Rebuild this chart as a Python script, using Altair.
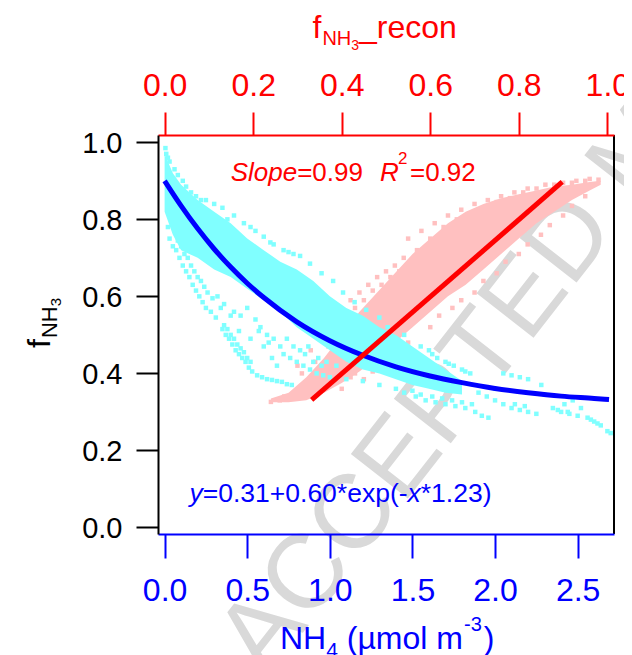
import altair as alt
import pandas as pd

FONT = "Liberation Sans"
BLUE = "#0000FF"
RED = "#FF0000"
CYAN = "#80FFFF"
PINK = "#FFC0C0"

# ---------------- data ----------------
# exponential fit curve (bottom axis: NH4)
fit_x = [0.0, 0.1, 0.2, 0.3, 0.4, 0.5, 0.6, 0.8, 1.0, 1.2, 1.4, 1.6, 1.8, 2.0, 2.2, 2.4, 2.6, 2.69]
fit_y = [0.900, 0.835, 0.776, 0.723, 0.676, 0.634, 0.597, 0.534, 0.485, 0.447, 0.417, 0.394,
         0.376, 0.361, 0.350, 0.341, 0.335, 0.332]

# linear fit (top axis: f_NH3_recon)
line_t = [0.332, 0.898]
line_y = [0.331, 0.897]

# cyan cloud: dense core band (NH4 vs f_NH3)
cb_x = [0.00, 0.05, 0.10, 0.20, 0.30, 0.40, 0.50, 0.60, 0.70, 0.80, 0.90, 1.00, 1.10, 1.20,
        1.30, 1.40, 1.50, 1.60, 1.70, 1.80]
cb_lo = [0.82, 0.76, 0.72, 0.70, 0.67, 0.65, 0.62, 0.59, 0.56, 0.52, 0.49, 0.46, 0.43, 0.41,
         0.40, 0.385, 0.37, 0.36, 0.35, 0.345]
cb_hi = [0.97, 0.92, 0.89, 0.85, 0.82, 0.79, 0.75, 0.72, 0.69, 0.67, 0.64, 0.60, 0.57, 0.55,
         0.52, 0.50, 0.47, 0.44, 0.41, 0.38]

# cyan cloud: scattered points
cyan_x = [0.005, 0.01, 0.02, 0.03, 0.06, 0.08, 0.11, 0.13, 0.16, 0.19, 0.22,
          0.02, 0.03, 0.05, 0.07, 0.09, 0.11, 0.13, 0.15, 0.17, 0.19, 0.21, 0.23, 0.25, 0.28, 0.31,
          0.04, 0.06, 0.08, 0.10, 0.12, 0.14, 0.16, 0.18, 0.20, 0.22, 0.24, 0.26, 0.29,
          0.35, 0.37, 0.39, 0.41, 0.43, 0.45, 0.47, 0.49, 0.51, 0.53,
          0.36, 0.38, 0.40, 0.42, 0.44, 0.46, 0.48, 0.50, 0.52,
          0.56, 0.59, 0.62, 0.65, 0.68, 0.71, 0.74, 0.77,
          0.32, 0.36, 0.42, 0.46, 0.50, 0.55, 0.58, 0.62, 0.66, 0.70, 0.72, 0.76, 0.80, 0.84, 0.88,
          0.92, 0.96, 1.00, 0.60, 0.65, 0.68, 0.85, 0.90, 0.95, 0.78, 0.52, 0.45,
          0.34, 0.40, 0.57, 0.63, 0.74, 0.82, 0.87, 0.93, 0.98, 1.04,
          0.30, 0.35, 0.42, 0.48, 0.55, 0.60, 0.66, 0.72, 0.78, 0.82, 0.88, 0.95, 1.02, 1.08, 1.15,
          1.22, 1.30, 0.25, 0.38, 0.52, 0.64, 0.75,
          1.35, 1.45, 1.55, 1.60, 1.65, 1.70, 1.75, 1.80, 1.85, 1.62, 1.72, 1.82,
          1.52, 1.58, 1.64, 1.70, 1.76, 1.82, 1.88, 1.92, 1.96, 1.90, 1.95, 2.00, 2.05, 2.10, 2.15,
          2.20, 2.25, 2.05, 2.10, 2.15, 2.20, 2.28, 2.35, 2.40, 2.45, 2.50, 2.42, 2.47, 2.52, 2.56,
          2.60, 2.64, 2.68, 2.70, 2.00, 2.30, 1.40, 1.45, 1.50, 1.30, 1.20, 1.10,
          1.55, 1.62, 1.68, 1.74, 1.80, 1.86, 2.12, 2.18, 2.38, 2.44, 2.58, 2.62]
cyan_y = [0.985, 0.97, 0.96, 0.95, 0.93, 0.915, 0.90, 0.885, 0.87, 0.86, 0.85,
          0.78, 0.75, 0.73, 0.72, 0.70, 0.68, 0.665, 0.65, 0.63, 0.615, 0.60, 0.585, 0.57, 0.56, 0.545,
          0.80, 0.77, 0.745, 0.73, 0.71, 0.70, 0.68, 0.665, 0.65, 0.64, 0.625, 0.61, 0.595,
          0.515, 0.50, 0.49, 0.475, 0.46, 0.45, 0.44, 0.43, 0.415, 0.405,
          0.525, 0.515, 0.50, 0.49, 0.475, 0.465, 0.455, 0.44, 0.43,
          0.395, 0.39, 0.385, 0.383, 0.38, 0.378, 0.372, 0.37,
          0.60, 0.58, 0.56, 0.55, 0.57, 0.54, 0.52, 0.50, 0.49, 0.47, 0.45, 0.44, 0.43, 0.42, 0.41,
          0.40, 0.395, 0.39, 0.47, 0.44, 0.42, 0.45, 0.43, 0.42, 0.47, 0.49, 0.51,
          0.57, 0.55, 0.51, 0.48, 0.49, 0.46, 0.47, 0.44, 0.43, 0.42,
          0.84, 0.83, 0.81, 0.79, 0.77, 0.755, 0.735, 0.72, 0.71, 0.705, 0.685, 0.66, 0.64, 0.61, 0.585,
          0.565, 0.545, 0.85, 0.80, 0.78, 0.74, 0.715,
          0.52, 0.50, 0.47, 0.46, 0.44, 0.43, 0.42, 0.41, 0.40, 0.45, 0.425, 0.405,
          0.34, 0.33, 0.325, 0.32, 0.315, 0.31, 0.30, 0.29, 0.285, 0.35, 0.34, 0.33, 0.32, 0.31, 0.305,
          0.30, 0.295, 0.40, 0.395, 0.39, 0.385, 0.37, 0.31, 0.30, 0.295, 0.29, 0.32, 0.33, 0.31, 0.285,
          0.275, 0.265, 0.25, 0.245, 0.36, 0.345, 0.36, 0.35, 0.355, 0.37, 0.38, 0.385,
          0.345, 0.34, 0.335, 0.33, 0.325, 0.32, 0.32, 0.315, 0.305, 0.30, 0.28, 0.27]

# pink cloud: dense core band (f_NH3_recon vs f_NH3)
pb_t = [0.24, 0.28, 0.32, 0.36, 0.40, 0.44, 0.48, 0.52, 0.56, 0.60, 0.64, 0.68, 0.72, 0.76,
        0.80, 0.84, 0.88, 0.92, 0.96, 0.985]
pb_lo = [0.325, 0.325, 0.33, 0.35, 0.375, 0.405, 0.44, 0.48, 0.52, 0.56, 0.60, 0.63, 0.67, 0.71,
         0.75, 0.79, 0.82, 0.85, 0.875, 0.89]
pb_hi = [0.335, 0.35, 0.39, 0.44, 0.50, 0.56, 0.61, 0.66, 0.71, 0.75, 0.79, 0.82, 0.84, 0.855,
         0.865, 0.875, 0.885, 0.89, 0.897, 0.90]

# pink cloud: scattered points
pink_t = [0.24, 0.26, 0.28, 0.30, 0.32, 0.34, 0.36, 0.38, 0.40, 0.42,
          0.30, 0.33, 0.36, 0.38, 0.40, 0.42, 0.44, 0.46, 0.48, 0.50, 0.52, 0.54,
          0.31, 0.34, 0.37, 0.39, 0.41, 0.43, 0.45, 0.47, 0.49, 0.51, 0.53,
          0.55, 0.58, 0.61, 0.64, 0.67, 0.70, 0.73, 0.76, 0.79, 0.82, 0.86, 0.90, 0.93, 0.96, 0.98,
          0.57, 0.60, 0.63, 0.66, 0.69, 0.72, 0.75, 0.78, 0.81, 0.84, 0.88, 0.92, 0.95,
          0.60, 0.65, 0.70, 0.75, 0.80, 0.85, 0.90, 0.95,
          0.62, 0.67, 0.72, 0.77, 0.82, 0.87, 0.92,
          0.47, 0.50, 0.55, 0.45, 0.27, 0.29, 0.35, 0.43]
pink_y = [0.326, 0.33, 0.335, 0.34, 0.36, 0.35, 0.36, 0.38, 0.36, 0.39,
          0.42, 0.46, 0.50, 0.53, 0.56, 0.59, 0.61, 0.63, 0.65, 0.665, 0.68, 0.70,
          0.40, 0.43, 0.47, 0.51, 0.54, 0.57, 0.59, 0.615, 0.63, 0.65, 0.665,
          0.75, 0.77, 0.79, 0.81, 0.825, 0.84, 0.85, 0.86, 0.87, 0.88, 0.89, 0.895, 0.90, 0.905, 0.903,
          0.72, 0.75, 0.78, 0.80, 0.815, 0.83, 0.845, 0.855, 0.87, 0.88, 0.89, 0.895, 0.90,
          0.52, 0.57, 0.61, 0.66, 0.71, 0.76, 0.81, 0.86,
          0.55, 0.59, 0.64, 0.69, 0.735, 0.785, 0.835,
          0.405, 0.43, 0.48, 0.385, 0.34, 0.345, 0.37, 0.40]

# axis ticks
bottom_ticks = [0.0, 0.5, 1.0, 1.5, 2.0, 2.5]
top_ticks = [0.0, 0.2, 0.4, 0.6, 0.8, 1.0]
left_ticks = [0.0, 0.2, 0.4, 0.6, 0.8, 1.0]

# ---------------- layout helpers ----------------
W, H = 456, 399
OX, OY = 158, 135  # page position of the plot area

AW = {'f': 278, 'N': 722, 'H': 722, '3': 556, '_': 556, 'r': 333, 'e': 556, 'c': 500, 'o': 556,
      'n': 556, '4': 556, ' ': 278, '(': 333, ')': 333, 'µ': 576, 'm': 833, 'l': 222, '-': 333,
      'S': 667, 'p': 556, '=': 584, '0': 556, '.': 278, '9': 556, 'R': 722, '2': 556, 'y': 500,
      '1': 556, '+': 584, '6': 556, '*': 389, 'x': 500}


def tw(s, size):
    return sum(AW.get(c, 556) for c in s) * size / 1000.0


def txt(s, px, py, size, color="black", style="normal", angle=0):
    return alt.Chart(pd.DataFrame({"s": [s]})).mark_text(
        align="left", baseline="alphabetic", font=FONT, fontSize=size, color=color,
        fontStyle=style, angle=angle
    ).encode(x=alt.value(px - OX), y=alt.value(py - OY), text="s:N")


# ---------------- scales / axes ----------------
bottom_scale = alt.Scale(domain=[-0.04, 2.72], nice=False, zero=False)
top_scale = alt.Scale(domain=[-0.015, 1.015], nice=False, zero=False)
y_scale = alt.Scale(domain=[-0.017, 1.019], nice=False, zero=False)

y_axis = alt.Axis(orient="left", values=left_ticks, format=".1f", title=None, grid=False,
                  labelFont=FONT, labelFontSize=29, labelColor="black", tickColor="black",
                  domainColor="black", tickSize=22, tickWidth=2, domainWidth=2, labelPadding=14,
                  labelOffset=1, labelFlush=False, labelOverlap=False, zindex=1)
bottom_axis = alt.Axis(orient="bottom", values=bottom_ticks, format=".1f", title=None, grid=False,
                       labelFont=FONT, labelFontSize=32, labelColor=BLUE, tickColor=BLUE,
                       domainColor=BLUE, tickSize=24, tickWidth=2, domainWidth=2, labelPadding=17,
                       labelFlush=False, labelOverlap=False, zindex=1)
top_axis = alt.Axis(orient="top", values=top_ticks, format=".1f", title=None, grid=False,
                    labelFont=FONT, labelFontSize=32, labelColor=RED, tickColor=RED,
                    domainColor=RED, tickSize=23, tickWidth=2, domainWidth=2, labelPadding=10,
                    labelFlush=False, labelOverlap=False, zindex=1)

# ---------------- data frames ----------------
fit_df = pd.DataFrame({"x": fit_x, "y": fit_y})
line_df = pd.DataFrame({"t": line_t, "y": line_y})
cband_df = pd.DataFrame({"x": cb_x, "lo": cb_lo, "hi": cb_hi})
cyan_df = pd.DataFrame({"x": cyan_x, "y": cyan_y})
pband_df = pd.DataFrame({"t": pb_t, "lo": pb_lo, "hi": pb_hi})
pink_df = pd.DataFrame({"t": pink_t, "y": pink_y})

# ---------------- layers ----------------
watermark = txt("ACCEPTED MANUSCRIPT", 266, 680, 105, color="#D9D9D9", angle=308)

pink_area = alt.Chart(pband_df).mark_area(color=PINK, opacity=1).encode(
    x=alt.X("t:Q", scale=top_scale, axis=None),
    y=alt.Y("lo:Q", scale=y_scale, axis=y_axis),
    y2="hi:Q",
)
pink_pts = alt.Chart(pink_df).mark_square(color=PINK, size=20, opacity=1).encode(
    x=alt.X("t:Q", scale=top_scale, axis=None),
    y=alt.Y("y:Q", scale=y_scale, axis=y_axis),
)
cyan_area = alt.Chart(cband_df).mark_area(color=CYAN, opacity=1).encode(
    x=alt.X("x:Q", scale=bottom_scale, axis=None),
    y=alt.Y("lo:Q", scale=y_scale, axis=y_axis),
    y2="hi:Q",
)
cyan_pts = alt.Chart(cyan_df).mark_square(color=CYAN, size=20, opacity=1).encode(
    x=alt.X("x:Q", scale=bottom_scale, axis=None),
    y=alt.Y("y:Q", scale=y_scale, axis=y_axis),
)
blue_line = alt.Chart(fit_df).mark_line(color=BLUE, strokeWidth=5, interpolate="monotone").encode(
    x=alt.X("x:Q", scale=bottom_scale, axis=bottom_axis),
    y=alt.Y("y:Q", scale=y_scale, axis=y_axis),
)
red_line = alt.Chart(line_df).mark_line(color=RED, strokeWidth=5).encode(
    x=alt.X("t:Q", scale=top_scale, axis=top_axis),
    y=alt.Y("y:Q", scale=y_scale, axis=y_axis),
)
right_frame = alt.Chart(pd.DataFrame({"a": [0]})).mark_rule(color="black", strokeWidth=2).encode(
    x=alt.value(W), y=alt.value(0), y2=alt.value(H)
)

texts = []
# top title f_NH3_recon
x0 = 312.5
texts.append(txt("f", x0, 38.3, 32, RED))
x1 = x0 + tw("f", 32) + 1
texts.append(txt("NH", x1, 45, 20, RED))
x2 = x1 + tw("NH", 20)
texts.append(txt("3", x2, 50, 14, RED))
x3 = x2 + tw("3", 14)
texts.append(txt("_", x3, 38.3, 32, RED))
texts.append(txt("recon", x3 + tw("_", 32), 38.3, 32, RED))

# bottom title NH4 (µmol m-3)
b0 = 280
texts.append(txt("NH", b0, 649, 32, BLUE))
b1 = b0 + tw("NH", 32)
texts.append(txt("4", b1, 657, 21, BLUE))
b2 = b1 + tw("4", 21) + tw(" ", 32)
texts.append(txt("(µmol m", b2, 649, 32, BLUE))
b3 = b2 + tw("(µmol m", 32)
texts.append(txt("-3", b3 + 1, 631, 20, BLUE))
texts.append(txt(")", b3 + tw("-3", 20) + 3, 649, 32, BLUE))

# left title f_NH3 (rotated)
l0 = 348
texts.append(txt("f", 50, l0, 32, "black", angle=270))
l1 = l0 - tw("f", 32) - 1
texts.append(txt("NH", 57, l1, 22, "black", angle=270))
l2 = l1 - tw("NH", 22)
texts.append(txt("3", 61, l2, 15, "black", angle=270))

# Slope / R2 annotation
s0 = 230.7
texts.append(txt("Slope", s0, 180.5, 26, RED, style="italic"))
texts.append(txt("=0.99", s0 + tw("Slope", 26), 180.5, 26, RED))
texts.append(txt("R", 380, 180.5, 26, RED, style="italic"))
texts.append(txt("2", 398, 164, 17, RED))
texts.append(txt("=0.92", 410, 180.5, 26, RED))

# fit equation
e0 = 189.5
es = 26.5
texts.append(txt("y", e0, 502, es, BLUE, style="italic"))
e1 = e0 + tw("y", es)
texts.append(txt("=0.31+0.60*exp(-", e1, 502, es, BLUE))
e2 = e1 + tw("=0.31+0.60*exp(-", es)
texts.append(txt("x", e2, 502, es, BLUE, style="italic"))
texts.append(txt("*1.23)", e2 + tw("x", es), 502, es, BLUE))

chart = alt.layer(
    watermark, pink_area, pink_pts, cyan_area, cyan_pts, blue_line, red_line, right_frame, *texts
).resolve_scale(x="independent").properties(
    width=W, height=H,
    autosize=alt.AutoSizeParams(type="none"),
    padding={"left": 150, "top": 127, "right": 10, "bottom": 125},
).configure_view(strokeWidth=0)

chart.save("out.html", embed_options={"renderer": "svg", "actions": False})
